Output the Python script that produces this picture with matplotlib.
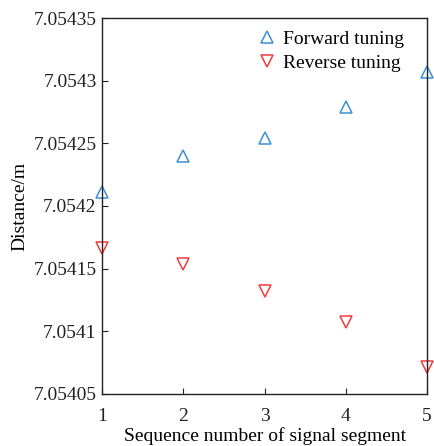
import matplotlib
matplotlib.use("Agg")
import matplotlib.pyplot as plt

segments = [1, 2, 3, 4, 5]
forward = [7.0542112, 7.0542398, 7.0542542, 7.0542792, 7.0543072]
reverse = [7.0541664, 7.0541534, 7.0541318, 7.0541076, 7.0540716]
yticks = [7.05405, 7.0541, 7.05415, 7.0542, 7.05425, 7.0543, 7.05435]
ytick_labels = ["7.05405", "7.0541", "7.05415", "7.0542", "7.05425", "7.0543", "7.05435"]

plt.rcParams['font.family'] = ['Liberation Serif', 'DejaVu Serif']
fig = plt.figure(figsize=(4.34, 4.46), dpi=100)
ax = fig.add_axes([0.2357, 0.1173, 0.7483, 0.8417])

blue = '#3d8fd1'
red = '#f03c3c'
ax.plot(segments, forward, linestyle='none', marker='^', markersize=9,
        markerfacecolor='none', markeredgecolor=blue, markeredgewidth=1.1,
        label='Forward tuning', clip_on=False)
ax.plot(segments, reverse, linestyle='none', marker='v', markersize=9,
        markerfacecolor='none', markeredgecolor=red, markeredgewidth=1.1,
        label='Reverse tuning', clip_on=False)

ax.set_xlim(1, 5)
ax.set_ylim(7.05405, 7.05435)
ax.set_xticks(segments)
ax.set_xticklabels([str(s) for s in segments])
ax.set_yticks(yticks)
ax.set_yticklabels(ytick_labels)
ax.tick_params(direction='in', labelsize=14, length=4, width=0.8,
               top=False, right=False, colors='#222222')
ax.tick_params(axis='x', pad=10)
ax.tick_params(axis='y', pad=4)
for s in ax.spines.values():
    s.set_linewidth(1.0)
    s.set_color('#222222')

ax.set_xlabel('Sequence number of signal segment', fontsize=14, labelpad=2)
ax.set_ylabel('Distance/m', fontsize=14, labelpad=4)

ax.legend(loc='upper right', frameon=False, fontsize=14, handletextpad=0.2,
          borderaxespad=0.2, labelspacing=0.35, handlelength=1.2,
          bbox_to_anchor=(0.965, 1.0))

fig.savefig('out.png', dpi=100)
